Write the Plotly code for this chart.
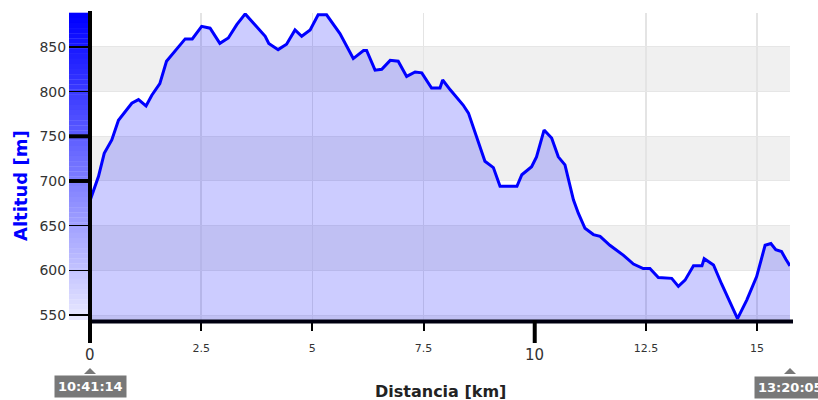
import plotly.graph_objects as go

# ---- data ----
dist_km = [0.0, 0.19, 0.32, 0.49, 0.64, 0.94, 1.09, 1.26, 1.39, 1.57, 1.72,
           2.14, 2.30, 2.51, 2.70, 2.92, 3.11, 3.30, 3.49,
           3.94, 4.02, 4.23, 4.42, 4.61, 4.76, 4.95, 5.13, 5.32,
           5.62, 5.92, 6.15, 6.22, 6.41, 6.56, 6.75, 6.93, 7.12, 7.31, 7.46,
           7.68, 7.87, 7.93, 8.10, 8.39, 8.51, 8.70, 8.88, 9.07, 9.22, 9.60, 9.71, 9.93,
           10.04, 10.21, 10.38, 10.53, 10.68, 10.87, 10.98, 11.13, 11.32, 11.47, 11.69, 11.99,
           12.22, 12.44, 12.59, 12.78, 13.08, 13.23, 13.38, 13.57, 13.76, 13.81, 14.02, 14.20,
           14.56, 14.77, 14.99, 15.18, 15.31, 15.42, 15.55, 15.65, 15.74]
altitude_m = [678, 705, 731, 746, 768, 787, 791, 784, 796, 809, 834,
              859, 859, 873, 871, 854, 860, 875, 887,
              862, 854, 847, 853, 869, 862, 869, 886, 886,
              865, 837, 846, 846, 824, 825, 835, 834, 817, 822, 821,
              804, 804, 813, 802, 785, 776, 748, 722, 715, 694, 694, 707, 716,
              727, 757, 748, 727, 718, 679, 664, 647, 640, 638, 628, 617,
              607, 602, 602, 592, 591, 582, 589, 605, 605, 613, 606, 585,
              546, 567, 593, 628, 630, 623, 621, 612, 605]

y_ticks = [550, 600, 650, 700, 750, 800, 850]
x_ticks = [2.5, 5, 7.5, 12.5, 15]
x_ticks_text = ["2.5", "5", "7.5", "12.5", "15"]
x_major_ticks = [0, 10]
y_major_ticks = [700, 750]
band_ranges = [(544.4, 550), (600, 650), (700, 750), (800, 850)]
start_time = "10:41:14"
end_time = "13:20:05"

X_RANGE = [0, 15.74]
Y_RANGE = [544.4, 888]
FONT = "DejaVu Sans"

fig = go.Figure()
fig.add_trace(go.Scatter(
    x=dist_km, y=altitude_m, mode="lines",
    line=dict(color="#0000ff", width=3),
    fill="tozeroy", fillcolor="rgba(0,0,255,0.2)",
    hoverinfo="skip", showlegend=False,
))

shapes = []
# horizontal gray bands
for y0, y1 in band_ranges:
    shapes.append(dict(type="rect", xref="x", yref="y", x0=X_RANGE[0], x1=X_RANGE[1],
                       y0=y0, y1=y1, fillcolor="#f0f0f0", line=dict(width=0), layer="below"))

# gradient bar at the left of the y axis
PW, PH = 700.0, 307.0
n = 60
top_py, bot_py = 13.0, 320.0
for i in range(n):
    t = i / (n - 1)
    r = int(0 + t * 232)
    c = f"rgb({r},{r},255)"
    py0 = top_py + (bot_py - top_py) * i / n
    py1 = top_py + (bot_py - top_py) * (i + 1) / n
    shapes.append(dict(type="rect", xref="paper", yref="paper",
                       x0=-21 / PW, x1=-2 / PW,
                       y0=(320 - py1) / PH, y1=(320 - py0) / PH + 0.001,
                       fillcolor=c, line=dict(width=0), layer="below"))

# axis lines
shapes.append(dict(type="line", xref="paper", yref="paper",
                   x0=-2 / PW, x1=703 / PW, y0=-1.5 / PH, y1=-1.5 / PH,
                   line=dict(color="#000010", width=4), layer="above"))
shapes.append(dict(type="line", xref="paper", yref="paper",
                   x0=0, x1=0, y0=-23 / PH, y1=309 / PH,
                   line=dict(color="black", width=4), layer="above"))
# major ticks
for xv in x_major_ticks:
    shapes.append(dict(type="line", xref="x", yref="paper",
                       x0=xv, x1=xv, y0=-23 / PH, y1=0,
                       line=dict(color="black", width=4), layer="above"))
for yv in y_major_ticks:
    shapes.append(dict(type="line", xref="paper", yref="y",
                       x0=-21 / PW, x1=0, y0=yv, y1=yv,
                       line=dict(color="black", width=4), layer="above"))
# time label pointers
for xp in (0, 1):
    shapes.append(dict(type="path", xref="paper", yref="paper",
                       path=f"M {xp - 6/PW} {-54/PH} L {xp} {-48/PH} L {xp + 6/PW} {-54/PH} Z",
                       fillcolor="#787878", line=dict(width=0), layer="above"))

annotations = []
for xv in x_major_ticks:
    annotations.append(dict(x=xv, xref="x", y=-35 / PH, yref="paper", text=str(xv),
                            showarrow=False, font=dict(family=FONT, size=15, color="#333"),
                            xanchor="center", yanchor="middle"))
annotations.append(dict(x=0, xref="paper", y=-66 / PH, yref="paper",
                        text=f"<b>{start_time}</b>", showarrow=False,
                        font=dict(family=FONT, size=13, color="white"),
                        bgcolor="#787878", borderpad=3, xanchor="center", yanchor="middle"))
annotations.append(dict(x=(754 - 90) / PW, xref="paper", y=-67 / PH, yref="paper",
                        text=f"<b>{end_time}</b>", showarrow=False,
                        font=dict(family=FONT, size=13, color="white"),
                        bgcolor="#787878", borderpad=3, xanchor="left", yanchor="middle"))
annotations.append(dict(x=(440 - 90) / PW, xref="paper", y=-71 / PH, yref="paper",
                        text="<b>Distancia [km]</b>", showarrow=False,
                        font=dict(family=FONT, size=16, color="#222"),
                        xanchor="center", yanchor="middle"))
annotations.append(dict(x=-70 / PW, xref="paper", y=(320 - 186) / PH, yref="paper",
                        text="<b>Altitud [m]</b>", showarrow=False, textangle=-90,
                        font=dict(family=FONT, size=18, color="#0000ff"),
                        xanchor="center", yanchor="middle"))

fig.update_layout(
    width=818, height=400,
    margin=dict(l=90, r=28, t=13, b=80),
    paper_bgcolor="white", plot_bgcolor="white",
    shapes=shapes, annotations=annotations,
    font=dict(family=FONT, color="#333"),
    xaxis=dict(range=X_RANGE, tickvals=x_ticks, ticktext=x_ticks_text,
               ticks="outside", ticklen=10, tickwidth=2, tickcolor="black",
               ticklabelstandoff=8,
               tickfont=dict(family=FONT, size=11, color="#333"),
               showgrid=True, gridcolor="#e4e4e4", gridwidth=1.5,
               zeroline=False, showline=False, fixedrange=True),
    yaxis=dict(range=Y_RANGE, tickvals=y_ticks,
               ticks="outside", ticklen=20, tickwidth=1.5, tickcolor="black",
               tickfont=dict(family=FONT, size=14, color="#333"),
               showgrid=True, gridcolor="#e6e6e6", gridwidth=1,
               zeroline=False, showline=False, fixedrange=True),
)

# remove the page's default body margin so the 818x400 figure fills the window
fig.write_html("out.html",
               config={"displayModeBar": False, "staticPlot": True},
               post_script="document.body.style.margin='0';document.body.style.overflow='hidden';")
